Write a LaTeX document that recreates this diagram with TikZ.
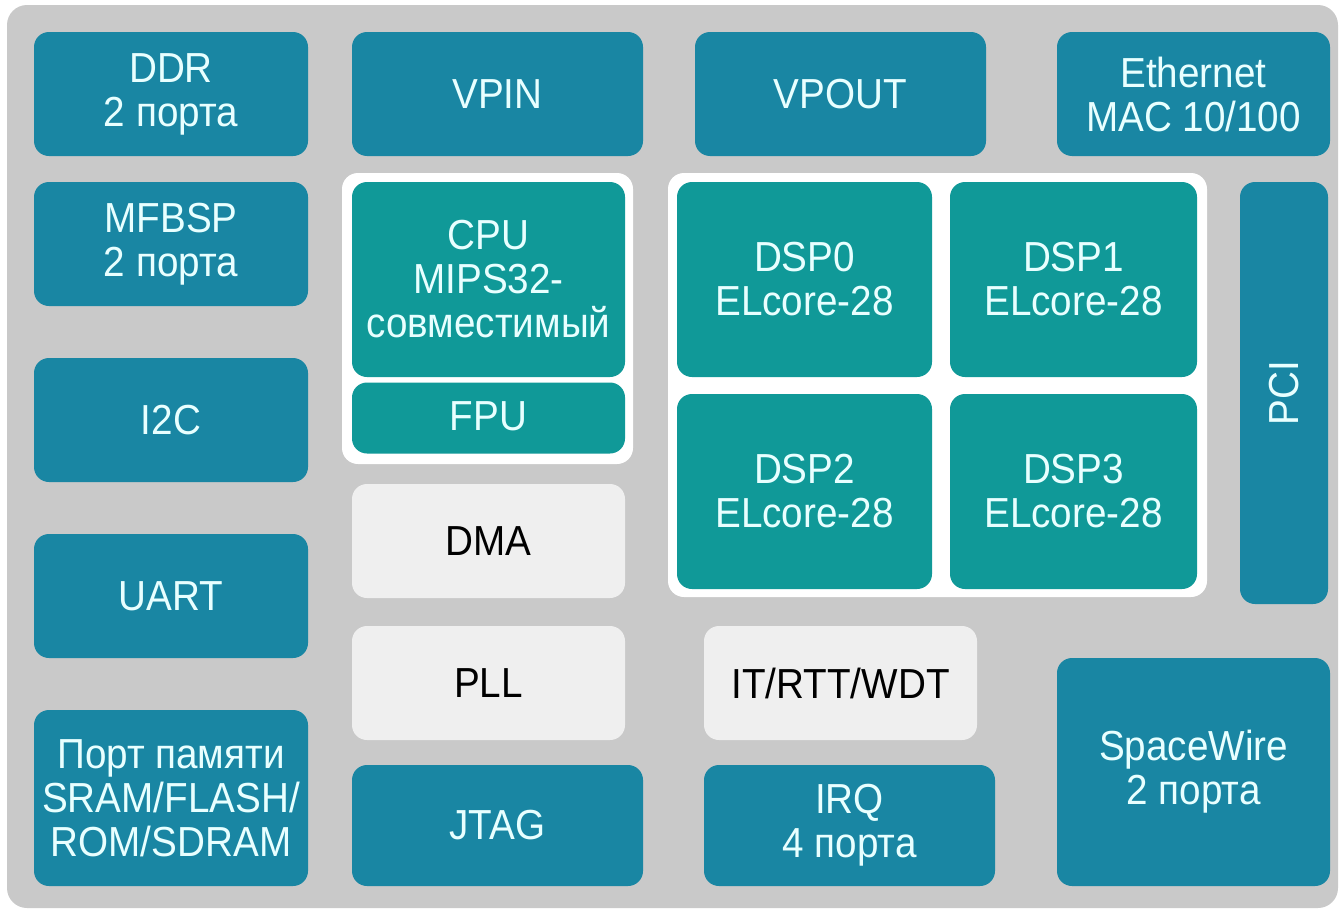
\documentclass[tikz,border=0pt]{standalone}
\usepackage{fontspec}
\setmainfont[FakeStretch=0.92]{Liberation Sans}
\begin{document}
\begin{tikzpicture}[x=1pt,y=-1pt,
  blk/.style={rounded corners=15pt, inner sep=0pt, align=center,
    font=\fontsize{42}{44}\selectfont},
  bluebox/.style={blk, fill=chipblue, text=chiptext},
  tealbox/.style={blk, fill=chipteal, text=chiptext},
  lightbox/.style={blk, fill=chiplight, text=black},
  group/.style={fill=white, rounded corners=16pt, draw=none}]
\definecolor{chipblue}{RGB}{25,134,163}
\definecolor{chipteal}{RGB}{16,153,152}
\definecolor{chiplight}{RGB}{239,239,239}
\definecolor{chipgray}{RGB}{201,201,201}
\definecolor{chiptext}{RGB}{232,255,255}
\useasboundingbox (0,0) rectangle (1340,910);
\fill[white] (0,0) rectangle (1340,910);
\fill[chipgray, rounded corners=20pt] (7,5) rectangle (1338,908);
% white groups
\fill[group] (342,173) rectangle (633,464);
\fill[group] (668,173) rectangle (1207,597);
% column 1
\node[bluebox, minimum width=274pt, minimum height=124pt] (ddr) at (171,94) {DDR\\2 порта};
\node[bluebox, minimum width=274pt, minimum height=124pt] (mfbsp) at (171,244) {MFBSP\\2 порта};
\node[bluebox, minimum width=274pt, minimum height=124pt] (i2c) at (171,420) {I2C};
\node[bluebox, minimum width=274pt, minimum height=124pt] (uart) at (171,596) {UART};
\node[bluebox, minimum width=274pt, minimum height=176pt] (mem) at (171,798) {Порт памяти\\SRAM/FLASH/\\ROM/SDRAM};
% column 2
\node[bluebox, minimum width=291pt, minimum height=124pt] (vpin) at (497.5,94) {VPIN};
\node[tealbox, minimum width=273pt, minimum height=195pt] (cpu) at (488.5,279.5) {CPU\\MIPS32-\\совместимый};
\node[tealbox, minimum width=273pt, minimum height=71pt] (fpu) at (488.5,418) {\raisebox{3pt}{FPU}};
\node[lightbox, minimum width=273pt, minimum height=114pt] (dma) at (488.5,541) {DMA};
\node[lightbox, minimum width=273pt, minimum height=114pt] (pll) at (488.5,683) {PLL};
\node[bluebox, minimum width=291pt, minimum height=121pt] (jtag) at (497.5,825.5) {JTAG};
% column 3
\node[bluebox, minimum width=291pt, minimum height=124pt] (vpout) at (840.5,94) {VPOUT};
\node[tealbox, minimum width=255pt, minimum height=195pt] (dsp0) at (804.5,279.5) {DSP0\\ELcore-28};
\node[tealbox, minimum width=247pt, minimum height=195pt] (dsp1) at (1073.5,279.5) {DSP1\\ELcore-28};
\node[tealbox, minimum width=255pt, minimum height=195pt] (dsp2) at (804.5,491.5) {DSP2\\ELcore-28};
\node[tealbox, minimum width=247pt, minimum height=195pt] (dsp3) at (1073.5,491.5) {DSP3\\ELcore-28};
\node[lightbox, minimum width=273pt, minimum height=114pt] (it) at (840.5,683) {IT/RTT/WDT};
\node[bluebox, minimum width=291pt, minimum height=121pt] (irq) at (849.5,825.5) {IRQ\\4 порта};
% column 4
\node[bluebox, minimum width=273pt, minimum height=124pt] (eth) at (1193.5,94) {Ethernet\\MAC 10/100};
\node[bluebox, minimum width=88pt, minimum height=422pt] (pcibox) at (1284,393) {};
\node[text=chiptext, font=\fontsize{42}{44}\selectfont, rotate=90] (pci) at (pcibox.center) {PCI};
\node[bluebox, minimum width=273pt, minimum height=228pt] (spw) at (1193.5,772) {SpaceWire\\2 порта};
\end{tikzpicture}
\end{document}
